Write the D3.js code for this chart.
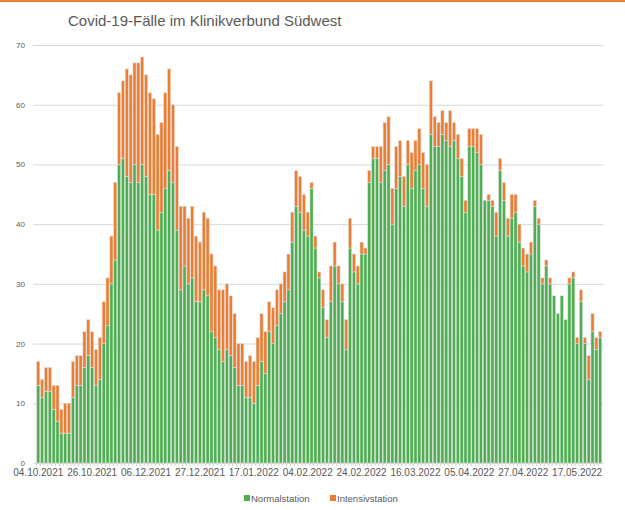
<!DOCTYPE html>
<html>
<head>
<meta charset="utf-8">
<script src="https://cdn.jsdelivr.net/npm/d3@7"></script>
<style>
  body { margin: 0; background: #fff; }
  svg { display: block; font-family: "Liberation Sans", Arial, sans-serif; }
</style>
</head>
<body>
<svg id="svg" width="625" height="510"></svg>
<script>
// tick labels, one every 14 categories (working days)
var tickLabels = ["04.10.2021", "26.10.2021", "06.12.2021", "27.12.2021", "17.01.2022",
  "04.02.2022", "24.02.2022", "16.03.2022", "05.04.2022", "27.04.2022", "17.05.2022"];
var labelStep = 14;

// Normalstation per day
var normal = [13, 11, 12, 12, 9, 7, 5, 5, 5, 11, 13, 13, 16, 18, 16, 13, 14, 20, 23, 30,
  34, 50, 51, 48, 47, 50, 47, 50, 48, 45, 45, 39, 42, 46, 49, 47, 39, 29, 33, 30,
  31, 27, 27, 29, 28, 22, 21, 19, 17, 19, 18, 16, 13, 13, 11, 11, 10, 13, 17, 15,
  22, 20, 23, 25, 27, 29, 37, 43, 42, 39, 38, 46, 36, 31, 26, 21, 27, 33, 30, 27,
  19, 36, 32, 30, 35, 35, 47, 51, 51, 47, 49, 50, 40, 46, 48, 43, 50, 46, 49, 50,
  46, 43, 55, 53, 53, 55, 54, 53, 54, 51, 48, 42, 53, 53, 52, 50, 44, 44, 43, 38,
  49, 44, 38, 41, 42, 37, 33, 32, 35, 43, 40, 30, 33, 30, 28, 25, 28, 24, 30, 31,
  20, 27, 20, 14, 22, 19, 21];

// Intensivstation per day
var intensiv = [4, 3, 4, 4, 4, 6, 4, 5, 5, 6, 5, 5, 6, 6, 6, 6, 7, 7, 8, 8,
  13, 12, 13, 18, 18, 17, 20, 18, 17, 17, 16, 16, 15, 16, 17, 13, 14, 14, 10, 11,
  12, 11, 10, 13, 13, 13, 12, 10, 12, 11, 10, 9, 7, 7, 6, 7, 7, 8, 8, 7,
  5, 6, 6, 5, 5, 6, 5, 6, 6, 6, 4, 1, 2, 1, 3, 3, 6, 4, 3, 3,
  5, 5, 3, 3, 2, 1, 2, 2, 2, 6, 8, 8, 6, 7, 6, 5, 4, 6, 5, 6,
  6, 7, 9, 5, 4, 4, 3, 6, 3, 4, 3, 2, 3, 3, 4, 5, 0, 1, 1, 4,
  2, 3, 3, 4, 3, 3, 3, 3, 2, 1, 1, 1, 1, 1, 0, 0, 0, 0, 1, 1,
  1, 2, 1, 4, 3, 2, 1];

var seriesNames = ["Normalstation", "Intensivstation"];
var colors = ["#4caf50", "#ed7d31"];

var svg = d3.select("#svg");
var width = 625, height = 510;
var plot = { left: 36, right: 602.5, top: 45, bottom: 463 };

// top accent line
svg.append("rect").attr("x", 0).attr("y", 0).attr("width", width).attr("height", 2)
  .attr("fill", "#ed7d31");

svg.append("text")
  .attr("x", 68).attr("y", 26)
  .attr("font-size", 15).attr("fill", "#595959")
  .text("Covid-19-Fälle im Klinikverbund Südwest");

var days = d3.range(normal.length);
var table = days.map(function (d) {
  return { idx: d, Normalstation: normal[d], Intensivstation: intensiv[d] };
});

var xScale = d3.scaleBand().domain(days).range([plot.left, plot.right]).padding(0.18);
var yScale = d3.scaleLinear().domain([0, 70]).range([plot.bottom, plot.top]);

// gridlines + y labels
var yAxis = svg.append("g")
  .attr("transform", "translate(" + (plot.left - 3) + ",0)")
  .call(d3.axisLeft(yScale).tickValues(d3.range(0, 71, 10))
    .tickSize(-(plot.right - plot.left + 4)).tickPadding(8));
yAxis.select(".domain").remove();
yAxis.selectAll("line").attr("stroke", "#d9d9d9");
yAxis.selectAll("text").attr("font-size", 8).attr("fill", "#595959")
  .attr("font-family", "Liberation Sans, Arial, sans-serif");

var stacked = d3.stack().keys(seriesNames)(table);

svg.append("g").selectAll("g")
  .data(stacked).enter().append("g")
  .attr("fill", function (d, i) { return colors[i]; })
  .selectAll("rect")
  .data(function (d) { return d; })
  .enter().append("rect")
  .attr("x", function (d) { return xScale(d.data.idx); })
  .attr("width", xScale.bandwidth())
  .attr("y", function (d) { return yScale(d[1]); })
  .attr("height", function (d) { return yScale(d[0]) - yScale(d[1]); })
  .attr("stroke", "#dedede")
  .attr("stroke-width", 0.6);

// category axis
var xAxis = svg.append("g")
  .attr("transform", "translate(0," + plot.bottom + ")")
  .call(d3.axisBottom(xScale)
    .tickSize(3).tickSizeOuter(0).tickPadding(3)
    .tickFormat(function (d) {
      return d % labelStep === 0 ? tickLabels[d / labelStep] : "";
    }));
xAxis.select(".domain").attr("stroke", "#d9d9d9");
xAxis.selectAll("line").attr("stroke", "#d0d0d0")
  .attr("transform", "translate(" + (-xScale.step() / 2) + ",0)");
xAxis.selectAll("text").attr("font-size", 10).attr("fill", "#595959")
  .attr("font-family", "Liberation Sans, Arial, sans-serif");

// legend
var legend = svg.append("g").attr("font-size", 9.5).attr("fill", "#595959");
var legendX = [244, 330];
seriesNames.forEach(function (name, i) {
  legend.append("rect").attr("x", legendX[i]).attr("y", 495)
    .attr("width", 6).attr("height", 6).attr("fill", colors[i]);
  legend.append("text").attr("x", legendX[i] + 7).attr("y", 501.5).text(name);
});
</script>
</body>
</html>
